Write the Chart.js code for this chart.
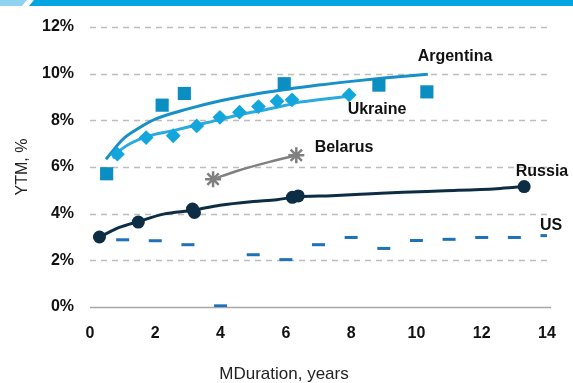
<!DOCTYPE html>
<html>
<head>
<meta charset="utf-8">
<script src="https://cdn.jsdelivr.net/npm/chart.js@4"></script>
<style>
  html, body { margin:0; padding:0; background:#fff; }
  #wrap { width:573px; height:383px; position:relative; }
</style>
</head>
<body>
<div id="wrap"><canvas id="c" width="573" height="383"></canvas></div>
<script>
// ---- Data ----
const xTickLabels = ['0','2','4','6','8','10','12','14'];
const yTickLabels = ['0%','2%','4%','6%','8%','10%','12%'];
const xAxisTitle = 'MDuration, years';
const yAxisTitle = 'YTM, %';

const argX = [0.51, 2.21, 2.89, 5.95, 8.85, 10.32];
const argY = [5.71, 8.65, 9.15, 9.57, 9.51, 9.22];
const argTrendX = [0.49, 1, 1.5, 2, 3, 4, 5, 6, 7, 8, 9, 10.35];
const argTrendY = [6.33, 7.18, 7.67, 8.05, 8.49, 8.84, 9.11, 9.32, 9.51, 9.67, 9.81, 9.98];

const ukrX = [0.84, 1.72, 2.55, 3.27, 3.98, 4.58, 5.16, 5.73, 6.19, 7.94];
const ukrY = [6.55, 7.26, 7.34, 7.76, 8.13, 8.35, 8.59, 8.82, 8.88, 9.09];
const ukrTrendX = [0.7, 1, 1.73, 2.55, 3.27, 3.98, 4.6, 5.2, 6.0, 6.43, 7.0, 7.9];
const ukrTrendY = [6.38, 6.8, 7.3, 7.56, 7.8, 8.03, 8.25, 8.41, 8.65, 8.78, 8.88, 9.03];

const belX = [3.77, 6.32];
const belY = [5.48, 6.5];
const belTrendX = [3.77, 4.5, 5.5, 6.32];
const belTrendY = [5.48, 5.83, 6.22, 6.5];

const rusX = [0.29, 1.48, 3.14, 3.2, 6.2, 6.38, 13.3];
const rusY = [3.0, 3.64, 4.2, 4.05, 4.7, 4.76, 5.16];
const rusTrendX = [0.29, 0.92, 1.48, 2.25, 3.17, 3.98, 5.0, 5.72, 6.33, 7.4, 8.47, 9.59, 10.88, 12.46, 13.3];
const rusTrendY = [3.0, 3.42, 3.66, 3.98, 4.15, 4.36, 4.52, 4.6, 4.72, 4.77, 4.84, 4.92, 4.98, 5.07, 5.16];

const usX = [1, 2, 3, 4, 5, 6, 7, 8, 9, 10, 11, 12, 13, 14];
const usY = [2.88, 2.84, 2.67, 0.05, 2.24, 2.03, 2.67, 2.98, 2.51, 2.85, 2.9, 2.98, 2.98, 3.06];

const seriesNames = ['Argentina', 'Ukraine', 'Belarus', 'Russia', 'US'];

// ---- helpers ----
const pts = (xs, ys) => xs.map((x, i) => ({x: x, y: ys[i]}));
const FONT = "'Liberation Sans', Arial, sans-serif";

const COL = {
  arg: '#0b8ec2', argLine: '#1690c8',
  ukr: '#12a6dd', ukrLine: '#2aaae0',
  bel: '#808080',
  rus: '#0c2d44',
  us: '#1f72b8'
};

const lineDs = (label, data, color, order, width) => ({
  label, data, showLine: true, borderColor: color, borderWidth: width || 3,
  pointRadius: 0, fill: false, cubicInterpolationMode: 'monotone', order
});

// ---- plugins ----
const bgPlugin = {
  id: 'bg',
  beforeDraw(chart) {
    const ctx = chart.ctx;
    ctx.save();
    ctx.fillStyle = '#fff';
    ctx.fillRect(0, 0, chart.width, chart.height);
    // top banner
    ctx.fillStyle = '#8fd3f0';
    ctx.beginPath();
    ctx.moveTo(0, 0); ctx.lineTo(27, 0); ctx.lineTo(22, 6); ctx.lineTo(0, 6); ctx.closePath();
    ctx.fill();
    ctx.fillStyle = '#00a6e2';
    ctx.beginPath();
    ctx.moveTo(34, 0); ctx.lineTo(573, 0); ctx.lineTo(573, 6); ctx.lineTo(29, 6); ctx.closePath();
    ctx.fill();
    ctx.restore();
  }
};

const gridPlugin = {
  id: 'customGrid',
  beforeDatasetsDraw(chart) {
    const {ctx, chartArea, scales} = chart;
    const y = scales.y;
    ctx.save();
    y.ticks.forEach(t => {
      const py = Math.round(y.getPixelForValue(t.value)) + 0.5;
      ctx.beginPath();
      if (t.value === 0) {
        ctx.setLineDash([]);
        ctx.strokeStyle = '#a6a6a6';
        ctx.lineWidth = 1.5;
      } else {
        ctx.setLineDash([6, 5]);
        ctx.strokeStyle = '#bdbdbd';
        ctx.lineWidth = 1.3;
      }
      ctx.moveTo(chartArea.left, py);
      ctx.lineTo(chartArea.right + 4, py);
      ctx.stroke();
    });
    ctx.restore();
  }
};

const labelPlugin = {
  id: 'seriesLabels',
  afterDatasetsDraw(chart) {
    const ctx = chart.ctx;
    const pos = [[455, 57], [377, 110], [344, 148], [542, 172], [551, 226]];
    ctx.save();
    ctx.font = 'bold 16px ' + FONT;
    ctx.fillStyle = '#111';
    ctx.textAlign = 'center';
    ctx.textBaseline = 'middle';
    seriesNames.forEach((n, i) => ctx.fillText(n, pos[i][0], pos[i][1]));
    // x axis title, centred on the canvas like the reference
    ctx.font = '17px ' + FONT;
    ctx.fillStyle = '#222';
    ctx.fillText(xAxisTitle, 284, 374);
    ctx.restore();
  }
};

new Chart(document.getElementById('c'), {
  type: 'scatter',
  data: {
    datasets: [
      lineDs('Argentina trend', pts(argTrendX, argTrendY), COL.argLine, 3),
      lineDs('Ukraine trend', pts(ukrTrendX, ukrTrendY), COL.ukrLine, 4),
      lineDs('Belarus trend', pts(belTrendX, belTrendY), COL.bel, 5, 2.5),
      lineDs('Russia trend', pts(rusTrendX, rusTrendY), COL.rus, 6),
      { label: seriesNames[0], data: pts(argX, argY), pointStyle: 'rect', pointRadius: 9.3,
        backgroundColor: COL.arg, borderWidth: 0, order: 1 },
      { label: seriesNames[1], data: pts(ukrX, ukrY), pointStyle: 'rectRot', pointRadius: 7.4,
        backgroundColor: COL.ukr, borderWidth: 0, order: 2 },
      { label: seriesNames[2], data: pts(belX, belY), pointStyle: 'star', pointRadius: 8,
        borderColor: COL.bel, backgroundColor: COL.bel, borderWidth: 2.5, order: 1 },
      { label: seriesNames[3], data: pts(rusX, rusY), pointStyle: 'circle', pointRadius: 6.5,
        backgroundColor: COL.rus, borderColor: COL.rus, borderWidth: 0, order: 1 },
      { label: seriesNames[4], data: pts(usX, usY), pointStyle: 'line', pointRadius: 6.5,
        borderColor: COL.us, borderWidth: 3, order: 1 }
    ]
  },
  options: {
    responsive: false,
    animation: false,
    events: [],
    layout: { padding: { top: 27, right: 26, left: 0, bottom: 0 } },
    plugins: { legend: { display: false }, tooltip: { enabled: false } },
    scales: {
      x: {
        type: 'linear', min: 0, max: 14,
        afterFit(s) { s.height = 76; },
        afterBuildTicks(s) { s.ticks = xTickLabels.map(v => ({value: Number(v)})); },
        grid: { display: false, drawTicks: false },
        border: { display: false },
        ticks: {
          padding: 17, color: '#111',
          font: { family: FONT, size: 16, weight: 'bold' },
          callback: (v, i) => xTickLabels[i]
        },
        title: { display: false }
      },
      y: {
        type: 'linear', min: 0, max: 12,
        afterFit(s) { s.width = 90; },
        afterBuildTicks(s) { s.ticks = yTickLabels.map(v => ({value: parseFloat(v)})); },
        grid: { display: false, drawTicks: false },
        border: { display: false },
        ticks: {
          padding: 16, color: '#111',
          font: { family: FONT, size: 16, weight: 'bold' },
          callback: (v, i) => yTickLabels[i]
        },
        title: {
          display: true, text: yAxisTitle, color: '#222',
          font: { family: FONT, size: 16 }, padding: { top: 13, bottom: 0 }
        }
      }
    }
  },
  plugins: [bgPlugin, gridPlugin, labelPlugin]
});
</script>
</body>
</html>
